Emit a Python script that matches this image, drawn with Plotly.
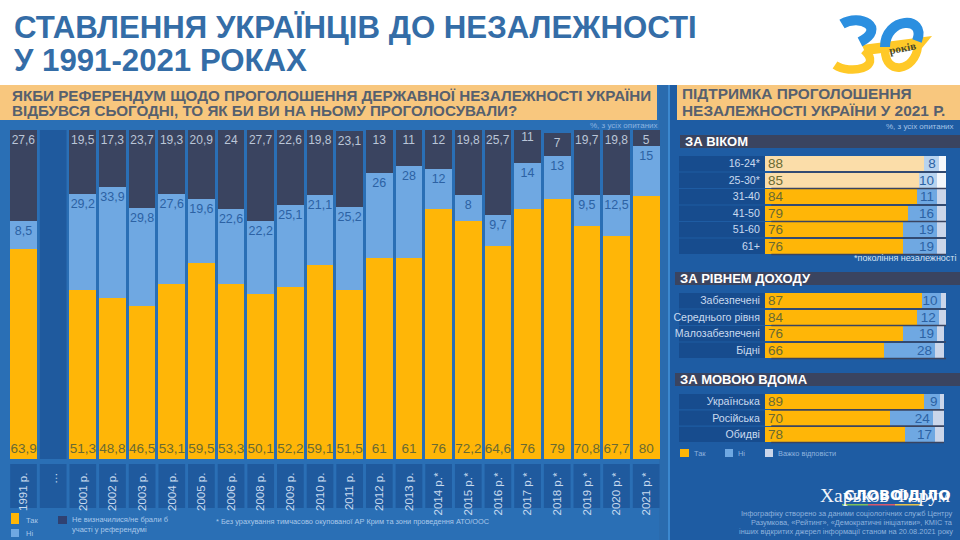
import plotly.graph_objects as go

# ---------- data ----------
periods = ["1991 р.", "…", "2001 р.", "2002 р.", "2003 р.", "2004 р.", "2005 р.", "2006 р.", "2008 р.",
           "2009 р.", "2010 р.", "2011 р.", "2012 р.", "2013 р.", "2014 р.*", "2015 р.*", "2016 р.*",
           "2017 р.*", "2018 р.*", "2019 р.*", "2020 р.*", "2021 р.*"]
yes_vals = [63.9, None, 51.3, 48.8, 46.5, 53.1, 59.5, 53.3, 50.1, 52.2, 59.1, 51.5, 61, 61, 76, 72.2, 64.6, 76, 79, 70.8, 67.7, 80]
no_vals = [8.5, None, 29.2, 33.9, 29.8, 27.6, 19.6, 22.6, 22.2, 25.1, 21.1, 25.2, 26, 28, 12, 8, 9.7, 14, 13, 9.5, 12.5, 15]
undecided_vals = [27.6, None, 19.5, 17.3, 23.7, 19.3, 20.9, 24, 27.7, 22.6, 19.8, 23.1, 13, 11, 12, 19.8, 25.7, 11, 7, 19.7, 19.8, 5]

age_groups = ["16-24*", "25-30*", "31-40", "41-50", "51-60", "61+"]
age_yes = [88, 85, 84, 79, 76, 76]
age_no = [8, 10, 11, 16, 19, 19]
age_hard = [4, 5, 5, 5, 5, 5]

income_groups = ["Забезпечені", "Середнього рівня", "Малозабезпечені", "Бідні"]
income_yes = [87, 84, 76, 66]
income_no = [10, 12, 19, 28]
income_hard = [3, 4, 4, 5]

lang_groups = ["Українська", "Російська", "Обидві"]
lang_yes = [89, 70, 78]
lang_no = [9, 24, 17]
lang_hard = [2, 6, 5]

# ---------- style ----------
W, H = 960, 540
FONT = "Liberation Sans"
ORANGE, LBLUE, DARK = "#FFB607", "#6FA8E2", "#3A4460"
PALE = "#CBD6EA"
PANEL_L, PANEL_R = "#2A6FB5", "#1E5CA3"
TILE = "#1F5A9E"
ROWTILE = "#174C8E"
HEADER = "#F8C77E"
px = lambda x: x / W
py = lambda y: 1 - y / H


def fmt(v):
    return "" if v is None else str(v).replace(".", ",")


shapes, annos = [], []


def rect(x0, y0, x1, y1, color, layer="below"):
    shapes.append(dict(type="rect", xref="paper", yref="paper", x0=px(x0), x1=px(x1), y0=py(y1), y1=py(y0),
                       fillcolor=color, line_width=0, layer=layer))


def label(x, y, text, size, color, anchor="left", bold=False, family=FONT, angle=0):
    annos.append(dict(xref="paper", yref="paper", x=px(x), y=py(y), text=f"<b>{text}</b>" if bold else text,
                      showarrow=False, xanchor=anchor, yanchor="middle", textangle=angle,
                      font=dict(size=size, color=color, family=family)))


def stroke(points, color, width):
    d = f"M{px(points[0][0])},{py(points[0][1])} C" + " ".join(f"{px(a)},{py(b)}" for a, b in points[1:])
    shapes.append(dict(type="path", xref="paper", yref="paper", path=d, line=dict(color=color, width=width),
                       layer="above"))


# panels
rect(0, 85, 659, H, PANEL_L)
rect(659, 85, 668, H, "#2A6BAE")
rect(668, 85, 670, H, "#3C88CF")
rect(670, 85, W, H, PANEL_R)
rect(0, 85, 657, 120, HEADER)
rect(677, 85, W, 120, HEADER)

# title
label(12, 27.5, "СТАВЛЕННЯ УКРАЇНЦІВ ДО НЕЗАЛЕЖНОСТІ", 31.2, "#346DA7", bold=True)
label(12, 60, "У 1991-2021 РОКАХ", 31.2, "#346DA7", bold=True)

# logo
shapes.append(dict(type="path", xref="paper", yref="paper",
                   path=f"M{px(862)},{py(45)} L{px(932)},{py(36)} L{px(922)},{py(48)} L{px(866)},{py(55)} Z",
                   fillcolor="#FFC928", line_width=0, layer="above"))
stroke([(835, 65), (850, 75), (884, 68), (864, 50)], "#FFC928", 8.5)
stroke([(885, 50), (885, 76), (915, 72), (918, 46)], "#FFC928", 8.5)
stroke([(842, 24), (860, 13), (887, 28), (860, 42)], "#2B8FE0", 10)
stroke([(885, 47), (885, 17), (927, 15), (917, 41)], "#2B8FE0", 10)
label(902, 48, "років", 11, "#4B4B2A", anchor="center", family="Liberation Serif", angle=-12, bold=True)

# header text
label(10, 95, "ЯКБИ РЕФЕРЕНДУМ ЩОДО ПРОГОЛОШЕННЯ ДЕРЖАВНОЇ НЕЗАЛЕЖНОСТІ УКРАЇНИ", 15.2, "#56606E", bold=True)
label(10, 111, "ВІДБУВСЯ СЬОГОДНІ, ТО ЯК БИ ВИ НА НЬОМУ ПРОГОЛОСУВАЛИ?", 15.2, "#56606E", bold=True)
label(680, 94, "ПІДТРИМКА ПРОГОЛОШЕННЯ", 15.4, "#56606E", bold=True)
label(680, 110, "НЕЗАЛЕЖНОСТІ УКРАЇНИ У 2021 Р.", 15.4, "#56606E", bold=True)
label(660, 125, "%, з усіх опитаних", 8, "#8CB4E0", anchor="right")
label(956, 127, "%, з усіх опитаних", 8, "#A5C3E6", anchor="right")

fig = go.Figure()

# ---------- main stacked columns ----------
for vals, color, tcolor, tpos, tsize, name in [
    (yes_vals, ORANGE, "#6A6A32", "start", 13.5, "Так"),
    (no_vals, LBLUE, "#2C62A4", "end", 12.5, "Ні"),
    (undecided_vals, DARK, "#BAC6D8", "end", 12, "Не визначилися"),
]:
    fig.add_trace(go.Bar(x=list(range(len(periods))), y=vals, name=name, marker=dict(color=color, line_width=0),
                         text=[fmt(v) for v in vals], textposition="inside", insidetextanchor=tpos,
                         textangle=0, constraintext="none",
                         textfont=dict(size=tsize, color=tcolor, family=FONT), showlegend=False,
                         xaxis="x", yaxis="y"))

# column slots behind the empty period and year tiles
shapes.append(dict(type="rect", xref="x", yref="paper", x0=0.55, x1=1.45, y0=py(459), y1=py(130),
                   fillcolor=TILE, line_width=0, layer="below"))
for i in range(len(periods)):
    shapes.append(dict(type="rect", xref="x", yref="paper", x0=i - 0.45, x1=i + 0.45, y0=py(508), y1=py(464),
                       fillcolor=TILE, line_width=0, layer="below"))


# ---------- breakdown panels ----------
def breakdown(idx, groups, yes, no, hard, top, bottom, right, title, title_y, title_x):
    xa, ya = f"x{idx}", f"y{idx}"
    n = len(groups)
    pitch = (bottom - top) / n
    pos = list(range(n))
    young = [g.endswith("*") for g in groups]
    series = [
        (yes, ["#FBDDA9" if f else ORANGE for f in young], "#6A6A32", "start"),
        (no, ["#B8D3EF" if f else LBLUE for f in young], "#2C62A4", "end"),
        (hard, ["#F4F7FB" if f else PALE for f in young], "#FFFFFF", "end"),
    ]
    for k, (vals, colors, tc, anchor) in enumerate(series):
        fig.add_trace(go.Bar(
            y=pos, x=vals, orientation="h", marker=dict(color=colors, line_width=0), width=0.92,
            text=[str(v) for v in vals] if k < 2 else None,
            textposition="inside" if k < 2 else "none", insidetextanchor=anchor, textangle=0,
            constraintext="none", textfont=dict(size=13.5, color=tc, family=FONT),
            showlegend=False, xaxis=xa, yaxis=ya))
    span = 100 * 10 / (right - 765)
    fig.add_trace(go.Scatter(
        y=pos, x=[100 + span * 0.25] * n, mode="text", text=[f"<b>{v}</b>" for v in hard],
        textposition="middle right", textfont=dict(size=13, color="#FFFFFF", family=FONT),
        cliponaxis=False, showlegend=False, xaxis=xa, yaxis=ya))
    for i in pos:
        rect(679, top + i * pitch + 0.6, 765, top + (i + 1) * pitch - 0.6, ROWTILE)
        ymid = 1 - (top + (i + 1) * pitch) / H
        shapes.append(dict(type="line", xref=xa, yref="paper", x0=3.5, x1=100, y0=ymid, y1=ymid,
                           line=dict(color=DARK, width=1.6), layer="above"))
    rect(title_x, title_y - 6.5, W, title_y + 6.5, DARK)
    label(title_x + 3, title_y, title, 13, "#FFFFFF", bold=True)
    fig.update_layout({
        f"xaxis{idx}": dict(domain=[px(765), px(right)], range=[0, 100], anchor=ya, visible=False),
        f"yaxis{idx}": dict(domain=[py(bottom), py(top)], range=[n - 0.5, -0.5], anchor=xa, tickmode="array",
                            tickvals=pos, ticktext=groups, ticks="outside", ticklen=2, tickcolor="rgba(0,0,0,0)",
                            showgrid=False, zeroline=False, showline=False,
                            tickfont=dict(size=10.6, color="#C9DAEF", family=FONT)),
    })


breakdown(2, age_groups, age_yes, age_no, age_hard, 155.5, 254.5, 946, "ЗА ВІКОМ", 141.5, 680)
breakdown(3, income_groups, income_yes, income_no, income_hard, 292.5, 358.5, 946, "ЗА РІВНЕМ ДОХОДУ", 278.5, 675)
breakdown(4, lang_groups, lang_yes, lang_no, lang_hard, 393.5, 442.5, 944, "ЗА МОВОЮ ВДОМА", 379.5, 675)

label(958, 258, "*покоління незалежності", 9, "#D5E2F2", anchor="right")

# ---------- custom legends and notes ----------
rect(11, 513, 19, 524, ORANGE)
rect(11, 529, 19, 537, LBLUE)
rect(58, 516, 67, 524, "#2F4172")
label(24, 520, "Так", 7.5, "#A9C8EA")
label(24, 533, "Ні", 7.5, "#A9C8EA")
label(70, 519, "Не визначилися/не брали б", 7.5, "#A9C8EA")
label(70, 529, "участі у референдумі", 7.5, "#A9C8EA")
label(214, 521, "* Без урахування тимчасово окупованої АР Крим та зони проведення АТО/ООС", 7.4, "#A9C8EA")

rect(680, 449, 689, 457, ORANGE)
rect(725, 449, 733, 457, "#6FA8E2")
rect(765, 449, 773, 457, PALE)
label(692, 453, "Так", 7.4, "#8FB3DE")
label(736, 453, "Ні", 7.4, "#8FB3DE")
label(776, 453, "Важко відповісти", 7.4, "#8FB3DE")

label(818, 495, "Харьков Форум", 19.5, "#F2F5FA", family="Liberation Serif")
label(842, 495, "СЛОВОІДІЛО", 14.5, "#FFFFFF", bold=True, family="DejaVu Sans")
for x0, x1, c in [(842, 868, "#7FBF5A"), (868, 895, "#D8596A"), (895, 922, "#E8C34A")]:
    rect(x0, 504, x1, 505.5, c, layer="above")
label(955, 513, "Інфографіку створено за даними соціологічних служб Центру", 7.4, "#8FB3DE", anchor="right")
label(955, 522, "Разумкова, «Рейтинг», «Демократичні ініціативи», КМІС та", 7.4, "#8FB3DE", anchor="right")
label(955, 531, "інших відкритих джерел інформації станом на 20.08.2021 року", 7.4, "#8FB3DE", anchor="right")

pitch_main = 29.65
fig.update_layout(
    width=W, height=H, margin=dict(l=0, r=0, t=0, b=0, autoexpand=False), autosize=False,
    paper_bgcolor="#FFFFFF", plot_bgcolor="rgba(0,0,0,0)", barmode="stack", bargap=0.1,
    showlegend=False, shapes=shapes, annotations=annos,
    font=dict(family=FONT),
    xaxis=dict(domain=[px(8.7), px(8.7 + 22 * pitch_main)], range=[-0.5, 21.5], tickmode="array",
               tickvals=list(range(len(periods))), ticktext=periods, tickangle=-90,
               ticks="outside", ticklen=8, tickcolor="rgba(0,0,0,0)", showgrid=False, zeroline=False,
               tickfont=dict(size=11.5, color="#C9DAEF", family=FONT), anchor="y"),
    yaxis=dict(domain=[py(459), py(130)], range=[0, 100], visible=False, anchor="x"),
)
fig.write_html("out.html", config=dict(displayModeBar=False),
               post_script="document.body.style.margin='0';document.documentElement.style.overflow='hidden';")
